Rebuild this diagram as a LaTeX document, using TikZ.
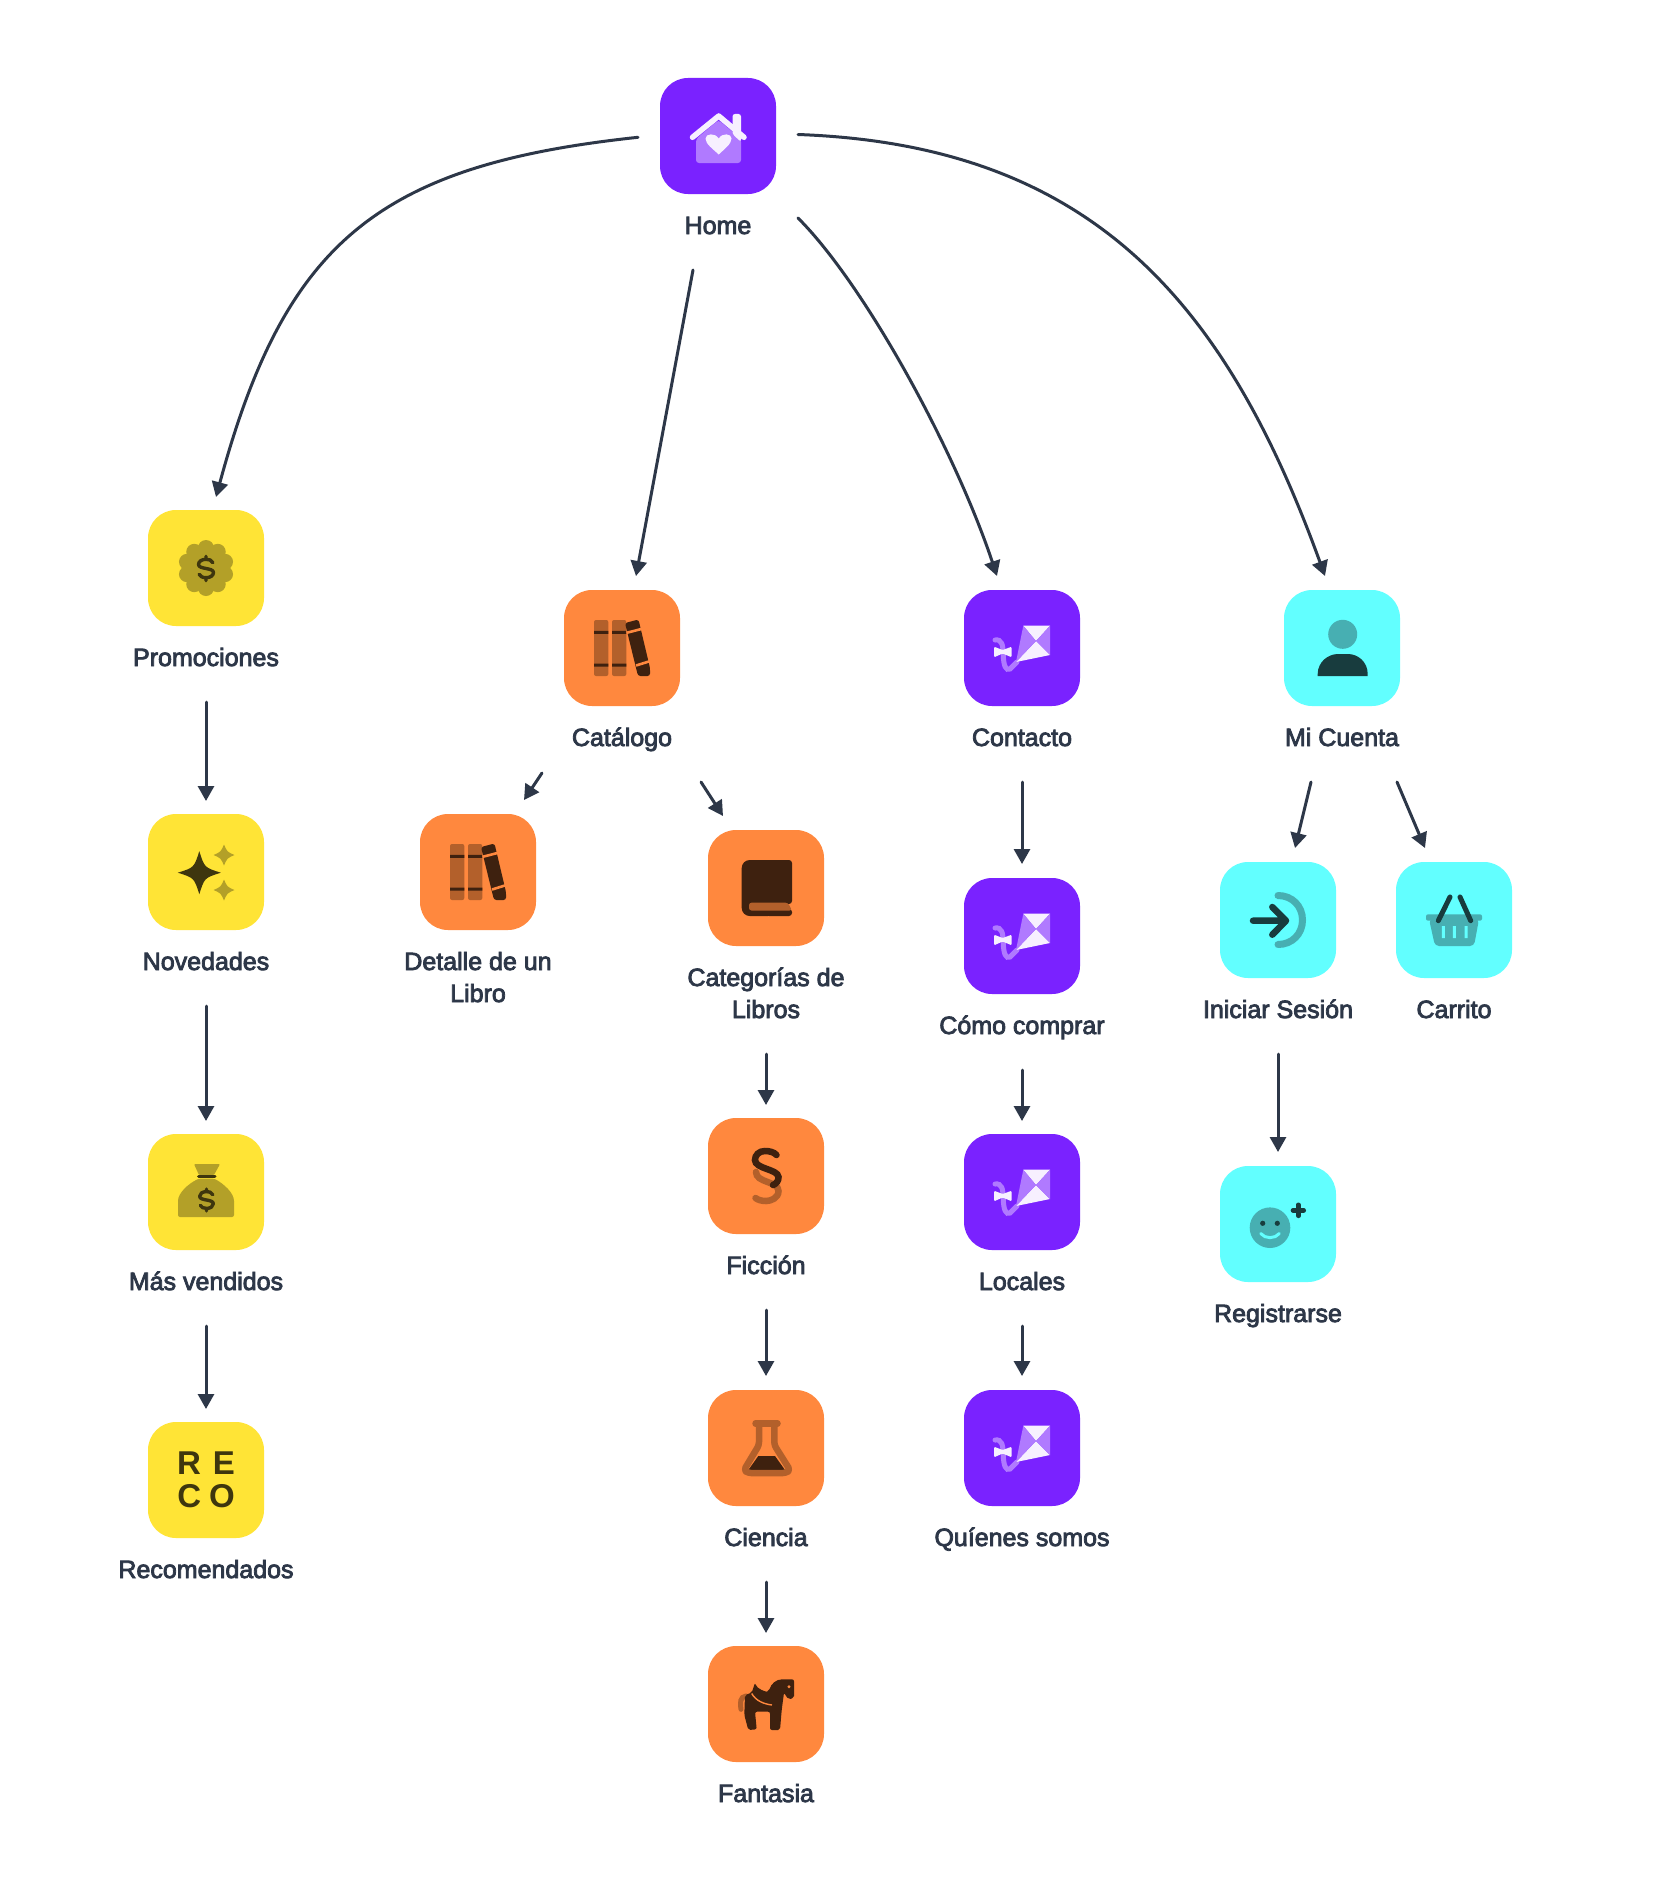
\documentclass[tikz,border=0pt]{standalone}
\usepackage{fontspec}
\usetikzlibrary{arrows.meta,calc}
\newfontfamily\labfont[FakeBold=3.2]{Liberation Sans}
\newfontfamily\recofont{Liberation Sans}
\definecolor{ink}{HTML}{2D3748}
\definecolor{purp}{HTML}{7A22FF}
\definecolor{purpM}{HTML}{B07AFF}
\definecolor{purpL}{HTML}{F7F0FF}
\definecolor{yel}{HTML}{FFE436}
\definecolor{yelM}{HTML}{B3A028}
\definecolor{yelD}{HTML}{3E360E}
\definecolor{ora}{HTML}{FF883E}
\definecolor{oraM}{HTML}{B3602B}
\definecolor{oraD}{HTML}{3E210F}
\definecolor{cya}{HTML}{62FFFF}
\definecolor{cyaM}{HTML}{47AFB2}
\definecolor{cyaD}{HTML}{183C3E}
\tikzset{
  x=1pt,y=-1pt,
  iconbox/.style={draw=none,minimum size=116pt,inner sep=0pt,rounded corners=28pt},
  lab/.style={text=ink,font=\labfont\fontsize{25}{32}\selectfont,anchor=base,align=center,inner sep=0pt},
  link/.style={draw=ink,line width=3pt,line cap=round,-{Triangle[length=15pt,width=16pt]}},
}
\newcommand\dollarsign[3]{%
 \begin{scope}[shift={(#1)},scale=#2]
  \draw[#3,line width=3.4pt,line cap=round,line join=round]
   (6,-5) .. controls (5,-7.5) and (2.5,-8) .. (0,-8) .. controls (-4,-8) and (-6.5,-6) .. (-6.5,-3.5)
   .. controls (-6.5,1) and (6.5,-1) .. (6.5,3.5) .. controls (6.5,6) and (4,8) .. (0,8)
   .. controls (-3,8) and (-5,7) .. (-6,5) (0,-8) -- (0,-10.5) (0,8) -- (0,10.5);
 \end{scope}}
\newcommand\sparkle[4]{%
 \begin{scope}[shift={(#1)},scale=#2]
  \fill[#3,line join=round] (0,-1) .. controls (#4,-#4) .. (1,0) .. controls (#4,#4) .. (0,1)
   .. controls (-#4,#4) .. (-1,0) .. controls (-#4,-#4) .. (0,-1) -- cycle;
 \end{scope}}
\newcommand\iconhouse[1]{\begin{scope}[shift={(#1)}]
  \fill[purpM,rounded corners=3pt] (-22,3) -- (0.5,-16) -- (23,3) -- (23,27) -- (-22,27) -- cycle;
  \fill[purpL,rounded corners=2.5pt] (14.5,-2) -- (14.5,-22) -- (23,-22) -- (23,6) -- cycle;
  \draw[purpL,line width=5.5pt,line cap=round,line join=round] (-25.5,1.3) -- (0.7,-20) -- (26,1.3);
  \fill[purpL] (0.7,18.5) .. controls (-5,13) and (-12.5,8) .. (-12.5,2.5) .. controls (-12.5,-2.5) and (-3,-3.5) .. (0.7,2.5)
     .. controls (4.4,-3.5) and (13.5,-2.5) .. (13.5,2.5) .. controls (13.5,8) and (6.4,13) .. (0.7,18.5) -- cycle;
\end{scope}}
\newcommand\iconbadge[1]{\begin{scope}[shift={(#1)}]
  \fill[yelM] (0,0) circle[radius=22pt];
  \foreach \a in {18,54,...,342}{\fill[yelM] (\a:20) circle[radius=8pt];}
  \dollarsign{0,0.5}{1.15}{yelD}
\end{scope}}
\newcommand\iconstars[1]{\begin{scope}[shift={(#1)}]
  \sparkle{-6.7,0.7}{21.5}{yelD}{.24}
  \sparkle{18,-17}{10.5}{yelM}{.3}
  \sparkle{18,18}{10.5}{yelM}{.3}
\end{scope}}
\newcommand\iconbag[1]{\begin{scope}[shift={(#1)}]
  \fill[yelM,rounded corners=1pt] (-12,-28) -- (14,-28) -- (8,-17) -- (-7,-17) -- cycle;
  \fill[yelM,rounded corners=2pt] (-7,-13.5) .. controls (-18,-8) and (-28,1) .. (-28,11) -- (-28,25) -- (28,25) -- (28,11)
      .. controls (28,1) and (18,-8) .. (8,-13.5) -- cycle;
  \draw[yelD,line width=3pt,line cap=round] (-7.5,-15.3) -- (9,-15.3);
  \dollarsign{0.5,8}{1.05}{yelD}
\end{scope}}
\newcommand\iconbooks[1]{\begin{scope}[shift={(#1)}]
  \fill[oraM,rounded corners=2pt] (-28,-28) rectangle (-13.7,28);
  \fill[oraM,rounded corners=2pt] (-10,-28) rectangle (4.3,28);
  \fill[oraD] (-28,-17.2) rectangle (-13.7,-14.2) (-28,15.5) rectangle (-13.7,18.5);
  \fill[oraD] (-10,-17.2) rectangle (4.3,-14.2) (-10,15.5) rectangle (4.3,18.5);
  \fill[oraD,rounded corners=2.5pt] (3,-25) -- (16.5,-28.5) -- (28,20) -- (28,28) -- (16,28) -- cycle;
  \draw[ora,line width=2.6pt] (4.5,-15.2) -- (19.5,-19) (14,17.5) -- (28.5,13);
\end{scope}}
\newcommand\iconbook[1]{\begin{scope}[shift={(#1)}]
  \fill[oraD,rounded corners=8pt] (-24.3,-28) rectangle (10,28);
  \fill[oraD,rounded corners=3pt] (0,-28) rectangle (26,16);
  \fill[oraD,rounded corners=3pt] (0,21) rectangle (26,28);
  \fill[oraM,rounded corners=2.5pt] (-17,14.7) -- (22,14.7) -- (26,22.5) -- (-17,22.5) -- cycle;
\end{scope}}
\newcommand\iconfiction[1]{\begin{scope}[shift={(#1)}]
  \draw[oraM,line width=6.5pt,line cap=round] (-10,-4) .. controls (-10,7) and (12.5,5) .. (12.5,15) .. controls (12.5,22) and (5,25) .. (0,25) .. controls (-4,25) and (-8,24) .. (-10.5,22);
  \draw[oraD,line width=6.5pt,line cap=round] (10.5,-21) .. controls (8,-24) and (3,-25) .. (-1,-25) .. controls (-7,-25) and (-11,-21) .. (-11,-16) .. controls (-11,-7) and (12,-7) .. (12.5,1) .. controls (12.7,5) and (10,8) .. (7,9);
\end{scope}}
\newcommand\iconflask[1]{\begin{scope}[shift={(#1)}]
  \fill[oraD] (-7.7,8) -- (9,8) -- (19,22) -- (-17.7,22) -- cycle;
  \draw[oraM,line width=6.5pt,line join=round,rounded corners=3pt] (-7,-25) -- (-7,-3) -- (-22,22) -- (-18,25) -- (20,25) -- (24,22) -- (8.3,-3) -- (8.3,-25);
  \draw[oraM,line width=6.5pt,line cap=round] (-10.5,-24.5) -- (11.5,-24.5);
\end{scope}}
\newcommand\iconhorse[1]{\begin{scope}[shift={(#1)}]
  \draw[oraM,line width=5pt,line cap=round] (-25,5.3) .. controls (-26,-2) and (-26,-7) .. (-20,-8);
  \fill[oraD,rounded corners=2pt] (28,-24.7) -- (28,-6) -- (22.3,-4.7) -- (18,-11.3) -- (15.7,6) -- (14,26) -- (4,26) -- (4,7.7) -- (-11,7.7) -- (-9.3,25.3) -- (-17.7,26) -- (-21.7,11) -- (-21,-9) -- (-14.3,-11.3) -- (-11,-21.3) .. controls (-9,-15) and (0,-12) .. (3,-13) .. controls (5,-20) and (10,-24.7) .. (18,-24.7) -- cycle;
  \draw[ora,line width=1.4pt] (-14.3,-10.5) .. controls (-10,-3) and (-2,0) .. (6,1);
  \fill[ora] (23,-17.3) circle[radius=1.6pt];
\end{scope}}
\newcommand\iconkite[1]{\begin{scope}[shift={(#1)}]
  \draw[purpM,line width=5pt,line cap=round] (-27,-8) .. controls (-20,-9) and (-19,-3) .. (-18.7,7) .. controls (-18.5,18) and (-16,23) .. (-12,21) -- (-5,14);
  \fill[purpL] (1.3,-22.3) -- (28,-22.3) -- (14,-7) -- cycle;
  \fill[purpL] (14,-7) -- (28,7) -- (-6,14) -- cycle;
  \fill[purpM] (1.3,-22.3) -- (14,-7) -- (-6,14) -- cycle;
  \fill[purpM] (28,-22.3) -- (28,7) -- (14,-7) -- cycle;
  \fill[purpL,rounded corners=1.2pt] (-28,-1.3) -- (-19.3,2) -- (-10.3,-1.3) -- (-10.3,9.3) -- (-19.3,5.5) -- (-28,9.3) -- cycle;
\end{scope}}
\newcommand\iconperson[1]{\begin{scope}[shift={(#1)}]
  \fill[cyaM] (0.7,-13.7) circle[radius=14.5pt];
  \fill[cyaD] (-24.3,28) -- (-24.3,26) .. controls (-24.3,14) and (-14,6) .. (-4,6) -- (6,6) .. controls (16,6) and (25.7,14) .. (25.7,26) -- (25.7,28) -- cycle;
\end{scope}}
\newcommand\iconlogin[1]{\begin{scope}[shift={(#1)}]
  \draw[cyaM,line width=7pt,line cap=round] (0,-24.5) .. controls (14,-24.5) and (24.5,-14) .. (24.5,0) .. controls (24.5,14) and (14,24.5) .. (0,24.5);
  \draw[cyaD,line width=6.5pt,line cap=round,line join=round] (-25,0.7) -- (7,0.7) (-5.7,-13) -- (8,0.7) -- (-5.7,14.7);
\end{scope}}
\newcommand\iconbasket[1]{\begin{scope}[shift={(#1)}]
  \fill[cyaM,rounded corners=2pt] (-28,-5.7) -- (28,-5.7) -- (28,0.7) -- (-28,0.7) -- cycle;
  \fill[cyaM,rounded corners=4pt] (-25,-1) -- (25,-1) -- (20,26) -- (-19,26) -- cycle;
  \fill[cya] (-12.2,6) rectangle (-9.2,18) (-1.2,6) rectangle (1.8,18) (10.5,6) rectangle (13.5,18);
  \draw[cyaD,line width=5pt,line cap=round] (-15.7,0.7) -- (-4,-23) (16.7,0.7) -- (6,-23);
\end{scope}}
\newcommand\iconsmile[1]{\begin{scope}[shift={(#1)}]
  \fill[cyaM] (-8,3.7) circle[radius=20.3pt];
  \fill[cyaD] (-15.3,-0.7) circle[radius=2.6pt] (-0.7,-0.7) circle[radius=2.6pt];
  \draw[cya,line width=3pt,line cap=round] (-17.3,9.5) .. controls (-13,15) and (-3,15) .. (1.3,9.5);
  \draw[cyaD,line width=4.6pt,line cap=round] (15,-13.7) -- (25.7,-13.7) (20.3,-19.2) -- (20.3,-8.2);
\end{scope}}
\begin{document}
\begin{tikzpicture}
\path[use as bounding box,fill=white] (0,0) rectangle (1660,1900);
% boxes
\node[iconbox,fill=purp] (home) at (718,136) {};
\node[iconbox,fill=yel] (promo) at (206,568) {};
\node[iconbox,fill=yel] (nove) at (206,872) {};
\node[iconbox,fill=yel] (masv) at (206,1192) {};
\node[iconbox,fill=yel] (reco) at (206,1480) {};
\node[iconbox,fill=ora] (cata) at (622,648) {};
\node[iconbox,fill=ora] (deta) at (478,872) {};
\node[iconbox,fill=ora] (cate) at (766,888) {};
\node[iconbox,fill=ora] (fict) at (766,1176) {};
\node[iconbox,fill=ora] (cien) at (766,1448) {};
\node[iconbox,fill=ora] (fant) at (766,1704) {};
\node[iconbox,fill=purp] (cont) at (1022,648) {};
\node[iconbox,fill=purp] (como) at (1022,936) {};
\node[iconbox,fill=purp] (loca) at (1022,1192) {};
\node[iconbox,fill=purp] (quie) at (1022,1448) {};
\node[iconbox,fill=cya] (cuen) at (1342,648) {};
\node[iconbox,fill=cya] (inic) at (1278,920) {};
\node[iconbox,fill=cya] (carr) at (1454,920) {};
\node[iconbox,fill=cya] (regi) at (1278,1224) {};
% icons
\iconhouse{home.center}
\iconbadge{promo.center}
\iconstars{nove.center}
\iconbag{masv.center}
\node[text=yelD,font=\recofont\bfseries\fontsize{33}{33}\selectfont,align=center,inner sep=0pt,anchor=center] (recot) at (reco.center) {\spaceskip=12pt R E\\\spaceskip=8pt C O};
\iconbooks{cata.center}
\iconbooks{deta.center}
\iconbook{cate.center}
\iconfiction{fict.center}
\iconflask{cien.center}
\iconhorse{fant.center}
\iconkite{cont.center}
\iconkite{como.center}
\iconkite{loca.center}
\iconkite{quie.center}
\iconperson{cuen.center}
\iconlogin{inic.center}
\iconbasket{carr.center}
\iconsmile{regi.center}
% labels
\node[lab] (lhome) at ($(home.center)+(0,98)$) {Home};
\node[lab] (lpromo) at ($(promo.center)+(0,98)$) {Promociones};
\node[lab] (lnove) at ($(nove.center)+(0,98)$) {Novedades};
\node[lab] (lmasv) at ($(masv.center)+(0,98)$) {Más vendidos};
\node[lab] (lreco) at ($(reco.center)+(0,98)$) {Recomendados};
\node[lab] (lcata) at ($(cata.center)+(0,98)$) {Catálogo};
\node[lab] (ldeta) at ($(deta.center)+(0,130)$) {Detalle de un\\Libro};
\node[lab] (lcate) at ($(cate.center)+(0,130)$) {Categorías de\\Libros};
\node[lab] (lfict) at ($(fict.center)+(0,98)$) {Ficción};
\node[lab] (lcien) at ($(cien.center)+(0,98)$) {Ciencia};
\node[lab] (lfant) at ($(fant.center)+(0,98)$) {Fantasia};
\node[lab] (lcont) at ($(cont.center)+(0,98)$) {Contacto};
\node[lab] (lcomo) at ($(como.center)+(0,98)$) {Cómo comprar};
\node[lab] (lloca) at ($(loca.center)+(0,98)$) {Locales};
\node[lab] (lquie) at ($(quie.center)+(0,98)$) {Quíenes somos};
\node[lab] (lcuen) at ($(cuen.center)+(0,98)$) {Mi Cuenta};
\node[lab] (linic) at ($(inic.center)+(0,98)$) {Iniciar Sesión};
\node[lab] (lcarr) at ($(carr.center)+(0,98)$) {Carrito};
\node[lab] (lregi) at ($(regi.center)+(0,98)$) {Registrarse};
% connectors: ends stand clear of the boxes
\draw[link] ($(home.center)+(-80,1.3)$) .. controls (378,165) and (285,242) .. ($(promo.center)+(10,-71)$);
\draw[link] ($(home.center)+(-25,134)$) -- ($(cata.center)+(14,-72)$);
\draw[link] ($(home.center)+(80,82)$) .. controls (865,285) and (955,450) .. ($(cont.center)+(-25,-72)$);
\draw[link] ($(home.center)+(80,-1.5)$) .. controls (1090,145) and (1225,300) .. ($(cuen.center)+(-17,-72)$);
\draw[link] ($(promo.center)+(0,134)$) -- ($(nove.center)+(0,-71)$);
\draw[link] ($(nove.center)+(0,134)$) -- ($(masv.center)+(0,-71)$);
\draw[link] ($(masv.center)+(0,134)$) -- ($(reco.center)+(0,-71)$);
\draw[link] ($(cata.center)+(-80,125)$) -- ($(deta.center)+(46,-72)$);
\draw[link] ($(cata.center)+(79,134)$) -- ($(cate.center)+(-43,-72)$);
\draw[link] ($(cate.center)+(0,166)$) -- ($(fict.center)+(0,-71)$);
\draw[link] ($(fict.center)+(0,134)$) -- ($(cien.center)+(0,-72)$);
\draw[link] ($(cien.center)+(0,134)$) -- ($(fant.center)+(0,-71)$);
\draw[link] ($(cont.center)+(0,134)$) -- ($(como.center)+(0,-72)$);
\draw[link] ($(como.center)+(0,134)$) -- ($(loca.center)+(0,-71)$);
\draw[link] ($(loca.center)+(0,134)$) -- ($(quie.center)+(0,-72)$);
\draw[link] ($(cuen.center)+(-31,134)$) -- ($(inic.center)+(17,-72)$);
\draw[link] ($(cuen.center)+(55,134)$) -- ($(carr.center)+(-29,-72)$);
\draw[link] ($(inic.center)+(0,134)$) -- ($(regi.center)+(0,-72)$);
\end{tikzpicture}
\end{document}
